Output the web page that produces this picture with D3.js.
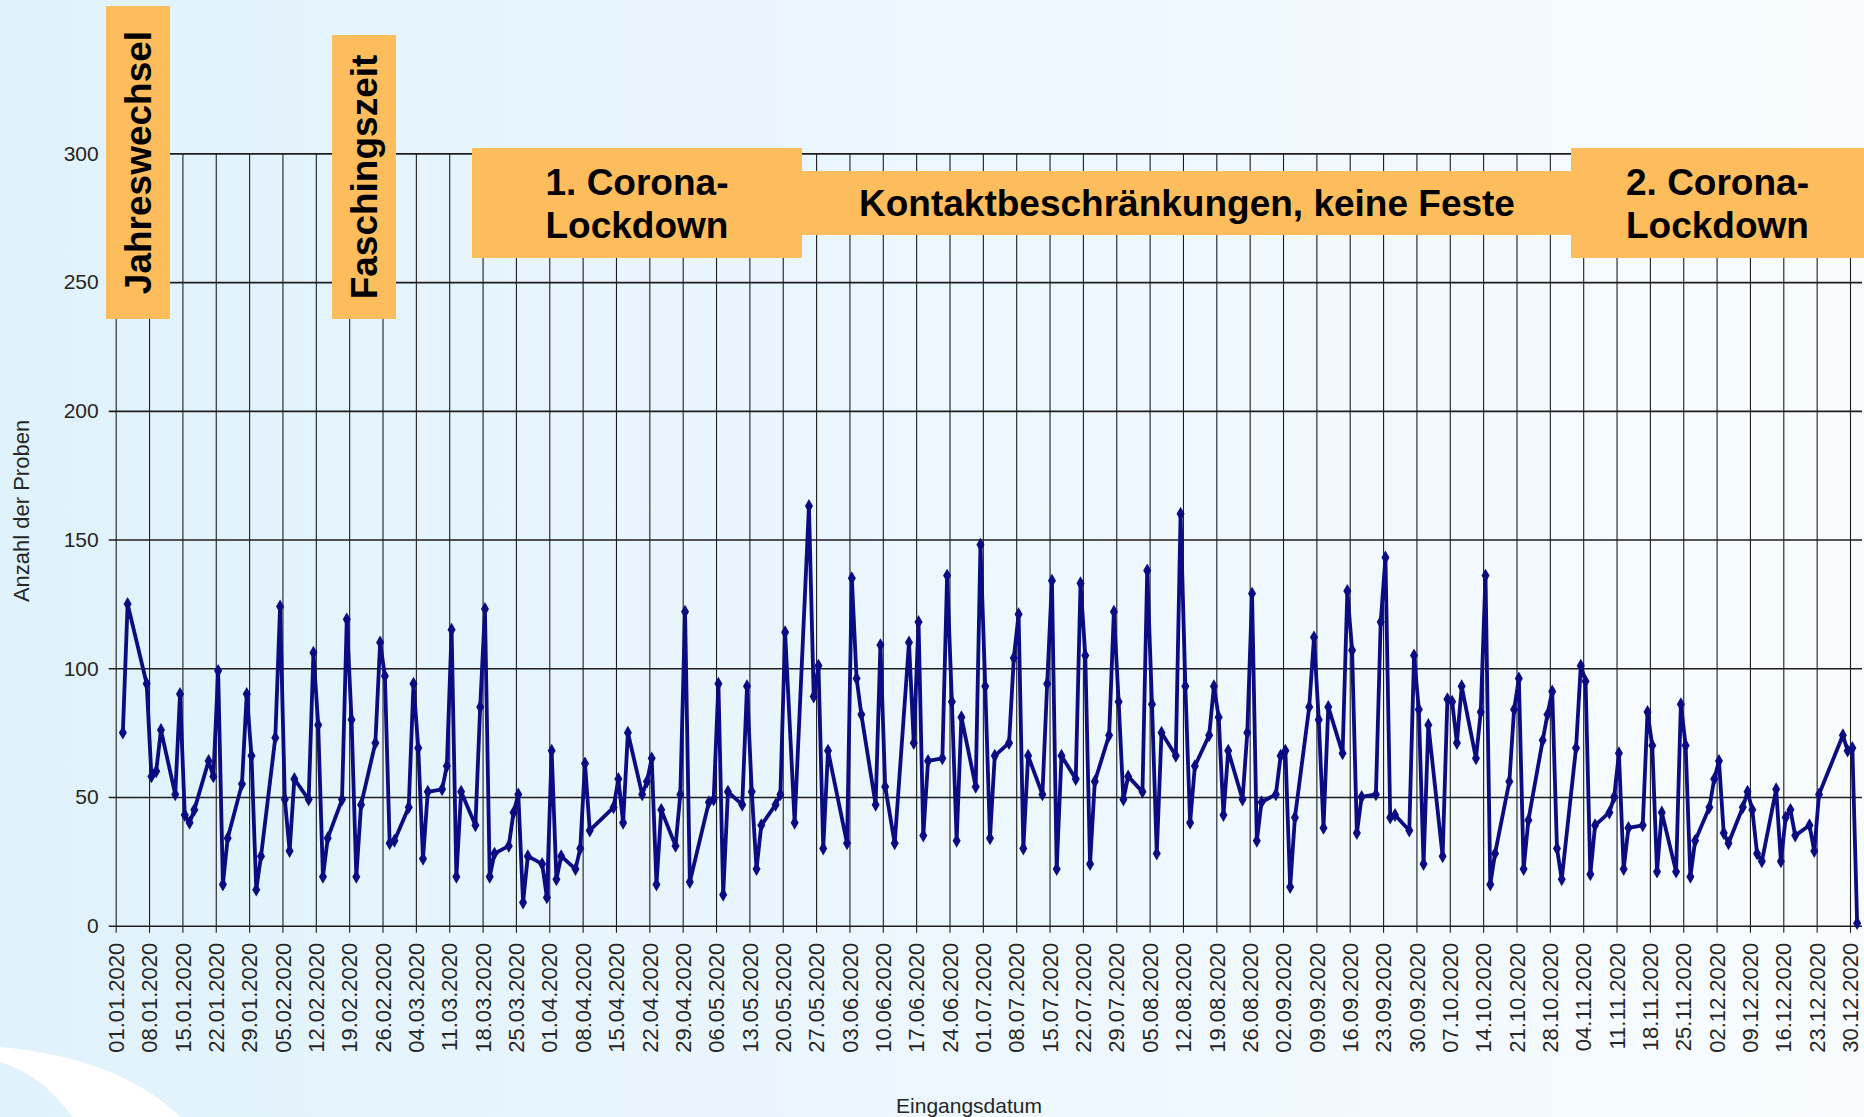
<!DOCTYPE html>
<html>
<head>
<meta charset="utf-8">
<script src="https://cdn.jsdelivr.net/npm/d3@7"></script>
<style>
  html, body { margin: 0; padding: 0; }
  body { width: 1864px; height: 1117px; overflow: hidden; }
  text { font-family: "Liberation Sans", Arial, sans-serif; }
</style>
</head>
<body>
<svg id="chart"></svg>
<script>
// Eingangsdatum (Arbeitstage 2020) and Anzahl der Proben
const dates = [
  "02.01","03.01",
  "07.01","08.01","09.01","10.01",
  "13.01","14.01","15.01","16.01","17.01",
  "20.01","21.01","22.01","23.01","24.01",
  "27.01","28.01","29.01","30.01","31.01",
  "03.02","04.02","05.02","06.02","07.02",
  "10.02","11.02","12.02","13.02","14.02",
  "17.02","18.02","19.02","20.02","21.02",
  "24.02","25.02","26.02","27.02","28.02",
  "02.03","03.03","04.03","05.03","06.03",
  "09.03","10.03","11.03","12.03","13.03",
  "16.03","17.03","18.03","19.03","20.03",
  "23.03","24.03","25.03","26.03","27.03",
  "30.03","31.03","01.04","02.04","03.04",
  "06.04","07.04","08.04","09.04",
  "14.04","15.04","16.04","17.04",
  "20.04","21.04","22.04","23.04","24.04",
  "27.04","28.04","29.04","30.04",
  "04.05","05.05","06.05","07.05","08.05",
  "11.05","12.05","13.05","14.05","15.05",
  "18.05","19.05","20.05","22.05",
  "25.05","26.05","27.05","28.05","29.05",
  "02.06","03.06","04.06","05.06",
  "08.06","09.06","10.06","12.06",
  "15.06","16.06","17.06","18.06","19.06",
  "22.06","23.06","24.06","25.06","26.06",
  "29.06","30.06","01.07","02.07","03.07",
  "06.07","07.07","08.07","09.07","10.07",
  "13.07","14.07","15.07","16.07","17.07",
  "20.07","21.07","22.07","23.07","24.07",
  "27.07","28.07","29.07","30.07","31.07",
  "03.08","04.08","05.08","06.08","07.08",
  "10.08","11.08","12.08","13.08","14.08",
  "17.08","18.08","19.08","20.08","21.08",
  "24.08","25.08","26.08","27.08","28.08",
  "31.08","01.09","02.09","03.09","04.09",
  "07.09","08.09","09.09","10.09","11.09",
  "14.09","15.09","16.09","17.09","18.09",
  "21.09","22.09","23.09","24.09","25.09",
  "28.09","29.09","30.09","01.10","02.10",
  "05.10","06.10","07.10","08.10","09.10",
  "12.10","13.10","14.10","15.10","16.10",
  "19.10","20.10","21.10","22.10","23.10",
  "26.10","27.10","28.10","29.10","30.10",
  "02.11","03.11","04.11","05.11","06.11",
  "09.11","10.11","11.11","12.11","13.11",
  "16.11","17.11","18.11","19.11","20.11",
  "23.11","24.11","25.11","26.11","27.11",
  "30.11","01.12","02.12","03.12","04.12",
  "07.12","08.12","09.12","10.12","11.12",
  "14.12","15.12","16.12","17.12","18.12",
  "21.12","22.12","23.12",
  "28.12","29.12","30.12","31.12"
];

const counts = [
  75,125,
  94,58,60,76,
  51,90,43,40,45,
  64,58,99,16,34,
  55,90,66,14,27,
  73,124,49,29,57,
  49,106,78,19,34,
  49,119,80,19,47,
  71,110,97,32,33,
  46,94,69,26,52,
  53,62,115,19,52,
  39,85,123,19,28,
  31,44,51,9,27,
  24,11,68,18,27,
  22,30,63,37,
  46,57,40,75,
  51,56,65,16,45,
  31,51,122,17,
  48,49,94,12,52,
  47,93,52,22,39,
  47,51,114,40,
  163,89,101,30,68,
  32,135,96,82,
  47,109,54,32,
  110,71,118,35,64,
  65,136,87,33,81,
  54,148,93,34,66,
  71,104,121,30,66,
  51,94,134,22,66,
  57,133,105,24,56,
  74,122,87,49,58,
  52,138,86,28,75,
  66,160,93,40,62,
  74,93,81,43,68,
  49,75,129,33,48,
  51,66,68,15,42,
  85,112,80,38,85,
  67,130,107,36,50,
  51,118,143,42,43,
  37,105,84,24,78,
  27,88,87,71,93,
  65,83,136,16,28,
  56,84,96,22,41,
  72,82,91,30,18,
  69,101,95,20,39,
  44,50,67,22,38,
  39,83,70,21,44,
  21,86,70,19,33,
  46,57,64,36,32,
  46,52,45,28,25,
  53,25,42,45,35,
  39,29,51,
  74,68,69,1
];

const yTicks = [0, 50, 100, 150, 200, 250, 300];
const firstTick = "01.01.2020";
const lastTick = "30.12.2020";

const yTitle = "Anzahl der Proben";
const xTitle = "Eingangsdatum";
const phaseLabels = {
  jahr: "Jahreswechsel",
  fasching: "Faschingszeit",
  lock1: ["1. Corona-", "Lockdown"],
  kontakt: "Kontaktbeschränkungen, keine Feste",
  lock2: ["2. Corona-", "Lockdown"]
};

const W = 1864, H = 1117;
const plotLeft = 115.7, plotRight = 1850, plotTop = 153.4, plotBottom = 925.7;

const svg = d3.select("#chart").attr("width", W).attr("height", H);

// background
const defs = svg.append("defs");
const grad = defs.append("linearGradient").attr("id", "bg").attr("x1", 0).attr("x2", 1).attr("y1", 0).attr("y2", 0);
grad.append("stop").attr("offset", "0%").attr("stop-color", "#e0f2fc");
grad.append("stop").attr("offset", "55%").attr("stop-color", "#edf7fe");
grad.append("stop").attr("offset", "100%").attr("stop-color", "#f8fcff");
svg.append("rect").attr("width", W).attr("height", H).attr("fill", "url(#bg)");

svg.append("path")
  .attr("d", "M0,1047 Q120,1058 180,1117 L72,1117 Q42,1074 0,1062 Z")
  .attr("fill", "#ffffff");

const parseDay = d3.utcParse("%d.%m.%Y");
const data = dates.map((d, i) => ({
  date: d3.utcHour.offset(parseDay(d + ".2020"), 12),
  value: counts[i]
}));

const x = d3.scaleUtc()
  .domain([parseDay(firstTick), parseDay(lastTick)])
  .range([plotLeft, plotRight]);

const y = d3.scaleLinear().domain([0, 300]).range([plotBottom, plotTop]);

// weekly ticks, every Wednesday from 01.01. to 30.12.
const weekTicks = d3.utcWednesday.range(parseDay(firstTick), d3.utcDay.offset(parseDay(lastTick), 1));

// horizontal grid + y labels
const yAxis = d3.axisLeft(y)
  .tickValues(yTicks)
  .tickSizeInner(-(1862 - plotLeft))
  .tickSizeOuter(0);

const gy = svg.append("g").attr("transform", `translate(${plotLeft},0)`).call(yAxis);
gy.select(".domain").remove();
gy.selectAll(".tick line")
  .attr("x1", -7)
  .attr("stroke", "#1e1e1e")
  .attr("stroke-width", 1.6);
gy.selectAll(".tick text")
  .attr("x", -17)
  .attr("fill", "#262626")
  .style("font-size", "21px");

// vertical grid + date labels
const xAxis = d3.axisBottom(x)
  .tickValues(weekTicks)
  .tickSizeInner(-(plotBottom + 7 - plotTop))
  .tickSizeOuter(0)
  .tickFormat(d3.utcFormat("%d.%m.%Y"));

const gx = svg.append("g").attr("transform", `translate(0,${plotBottom + 7})`).call(xAxis);
gx.select(".domain").remove();
gx.selectAll(".tick line")
  .attr("stroke", "#1e1e1e")
  .attr("stroke-width", 1.1);
gx.selectAll(".tick text")
  .attr("transform", "rotate(-90)")
  .attr("x", -10)
  .attr("y", 0)
  .attr("dy", "0.35em")
  .attr("text-anchor", "end")
  .attr("fill", "#262626")
  .style("font-size", "22px");

// axis titles
svg.append("text")
  .attr("transform", `translate(29,511) rotate(-90)`)
  .attr("text-anchor", "middle")
  .attr("fill", "#262626")
  .style("font-size", "22px")
  .text(yTitle);

svg.append("text")
  .attr("x", 969).attr("y", 1113)
  .attr("text-anchor", "middle")
  .attr("fill", "#262626")
  .style("font-size", "21px")
  .text(xTitle);

// data line
const line = d3.line().x(d => x(d.date)).y(d => y(d.value));
svg.append("path")
  .datum(data)
  .attr("d", line)
  .attr("fill", "none")
  .attr("stroke", "#0b0b82")
  .attr("stroke-width", 3.8)
  .attr("stroke-linejoin", "round");

svg.append("g").selectAll("path")
  .data(data)
  .enter()
  .append("path")
  .attr("transform", d => `translate(${x(d.date)},${y(d.value)})`)
  .attr("d", d3.symbol().type(d3.symbolDiamond).size(56))
  .attr("fill", "#0b0b82");

// phase annotations
const boxFill = "#fdbd5c";
const boxes = svg.append("g");

function vBox(x0, y0, w, h, label) {
  boxes.append("rect").attr("x", x0).attr("y", y0).attr("width", w).attr("height", h).attr("fill", boxFill);
  boxes.append("text")
    .attr("transform", `translate(${x0 + w / 2},${y0 + h / 2}) rotate(-90)`)
    .attr("text-anchor", "middle")
    .attr("dy", "0.36em")
    .style("font-size", "37px")
    .style("font-weight", "bold")
    .attr("fill", "#000")
    .text(label);
}

function hBox(x0, y0, w, h, lines, baselines) {
  boxes.append("rect").attr("x", x0).attr("y", y0).attr("width", w).attr("height", h).attr("fill", boxFill);
  lines.forEach((t, i) => {
    boxes.append("text")
      .attr("x", x0 + w / 2)
      .attr("y", baselines[i])
      .attr("text-anchor", "middle")
      .style("font-size", "37px")
      .style("font-weight", "bold")
      .attr("fill", "#000")
      .text(t);
  });
}

vBox(106, 6, 64, 313, phaseLabels.jahr);
vBox(332, 35, 64, 284, phaseLabels.fasching);
hBox(802, 171, 770, 64, [phaseLabels.kontakt], [216]);
hBox(472, 148, 330, 110, phaseLabels.lock1, [195, 238]);
hBox(1571, 148, 293, 110, phaseLabels.lock2, [195, 238]);
</script>
</body>
</html>
